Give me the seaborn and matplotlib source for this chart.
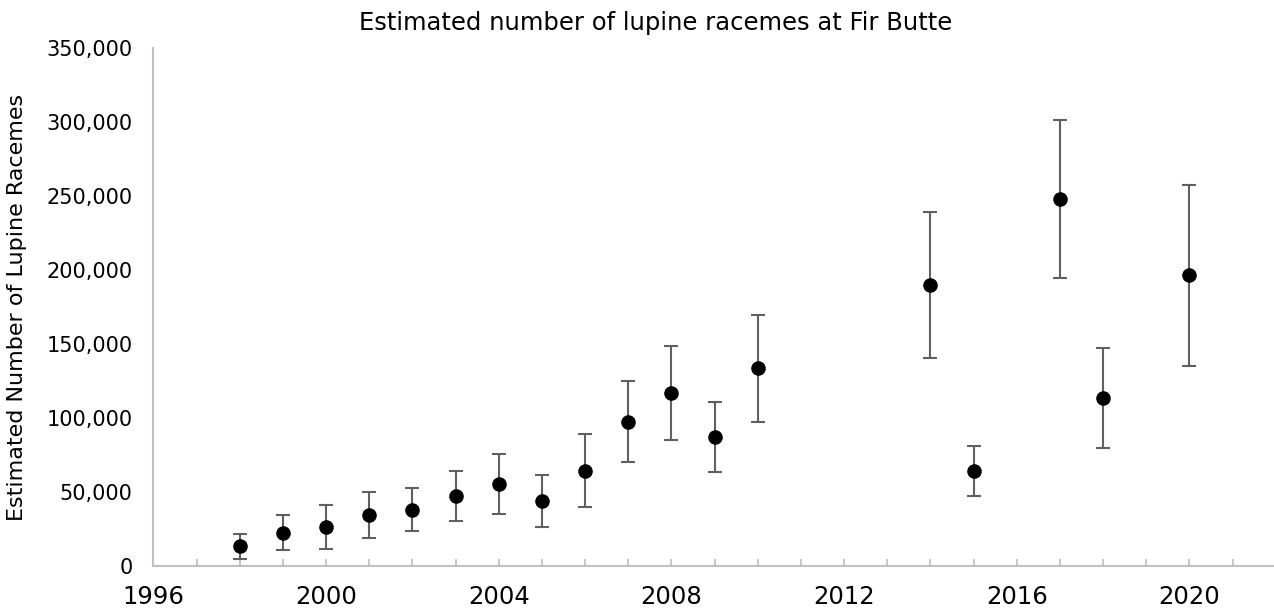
import numpy as np
import pandas as pd
import seaborn as sns
import matplotlib.pyplot as plt
from matplotlib.ticker import FuncFormatter, MultipleLocator

# —— DATA —— #
years = [1998, 1999, 2000, 2001, 2002, 2003, 2004, 2005, 2006, 2007,
         2008, 2009, 2010, 2014, 2015, 2017, 2018, 2020]
estimate = [13400, 22600, 26600, 34400, 37900, 47100, 55200, 43600, 64400, 97600,
            116700, 87000, 133600, 189800, 64200, 248200, 113600, 196400]
upper = [21300, 34400, 41500, 50200, 52600, 64400, 76000, 61300, 89400, 124900,
         148600, 111000, 169300, 239300, 81300, 301600, 147500, 257400]
lower = [5000, 10800, 11800, 19200, 23400, 30200, 35200, 26300, 39700, 70200,
         85200, 63400, 97600, 140700, 47300, 194300, 79700, 135400]

TITLE = 'Estimated number of lupine racemes at Fir Butte'
YLABEL = 'Estimated Number of Lupine Racemes'

AXIS_GRAY = '#C0C0C0'
BAR_GRAY = '#606060'

sns.set_theme(style='white')
plt.rcParams['font.family'] = ['DejaVu Sans']
plt.rcParams['text.color'] = 'black'
plt.rcParams['axes.labelcolor'] = 'black'
plt.rcParams['xtick.labelcolor'] = 'black'
plt.rcParams['ytick.labelcolor'] = 'black'

df = pd.DataFrame({'year': years, 'estimate': estimate,
                   'upper': upper, 'lower': lower})

fig = plt.figure(figsize=(12.74, 6.09), dpi=100)
ax = fig.add_axes([0.1204, 0.0706, 0.881, 0.8506])

# error bars first, points on top
yerr = np.vstack([df['estimate'] - df['lower'], df['upper'] - df['estimate']])
ax.errorbar(df['year'], df['estimate'], yerr=yerr, fmt='none',
            ecolor=BAR_GRAY, elinewidth=1.5, capsize=5, capthick=1.5, zorder=2)
sns.scatterplot(data=df, x='year', y='estimate', color='black', s=110,
                edgecolor='black', linewidth=0, ax=ax, zorder=3)

ax.set_xlim(1996, 2022)
ax.set_ylim(0, 350000)
ax.xaxis.set_major_locator(MultipleLocator(4))
ax.xaxis.set_minor_locator(MultipleLocator(1))
ax.yaxis.set_major_locator(MultipleLocator(50000))
ax.yaxis.set_major_formatter(FuncFormatter(lambda v, _: f'{int(v):,}'))

for side in ['top', 'right']:
    ax.spines[side].set_visible(False)
for side in ['left', 'bottom']:
    ax.spines[side].set_color(AXIS_GRAY)
    ax.spines[side].set_linewidth(1.5)

ax.tick_params(axis='x', which='both', direction='in', length=5, width=1.3,
               color=AXIS_GRAY, bottom=True)
ax.tick_params(axis='x', which='major', labelsize=17.5, pad=14, labelcolor='black')
ax.tick_params(axis='y', which='both', length=0, labelsize=15, pad=15,
               labelcolor='black')

ax.set_xlabel('')
ax.set_ylabel(YLABEL, fontsize=16, labelpad=14, color='black')
fig.text(0.515, 0.962, TITLE, fontsize=17.5, ha='center', va='center',
         color='black')

fig.savefig('out.png', dpi=100)
